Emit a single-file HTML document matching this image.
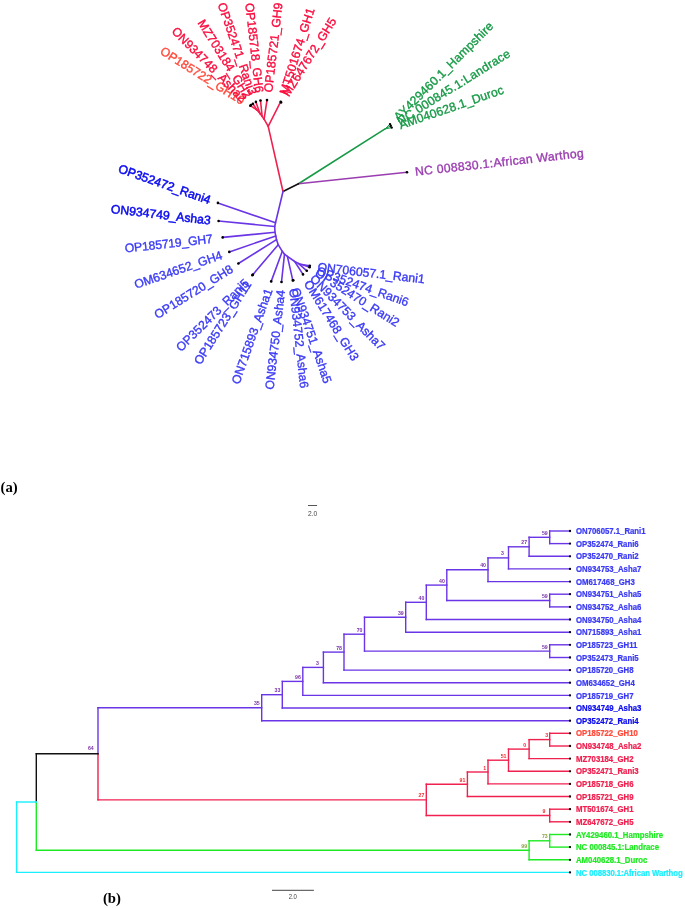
<!DOCTYPE html>
<html lang="en"><head><meta charset="utf-8"><title>Phylogenetic tree</title>
<style>
html,body{margin:0;padding:0;background:#fff;}
body{width:685px;height:908px;overflow:hidden;}
svg{display:block;}
text{font-family:"Liberation Sans",sans-serif;}
.t{font-size:12.2px;stroke-width:0.36px;paint-order:stroke;}
.b{font-size:8.8px;font-weight:bold;stroke-width:0.25px;}
.n{font-size:5.2px;font-weight:bold;}
.s{font-size:7px;fill:#444;}
.cap{font-family:"Liberation Serif",serif;font-weight:bold;font-size:14.7px;fill:#000;}
</style></head><body>
<svg width="685" height="908" viewBox="0 0 685 908">
<rect width="685" height="908" fill="#fff"/>
<g id="radial">
<line x1="298.5" y1="183.7" x2="385.1" y2="128.9" stroke="#169a46" stroke-width="1.6" stroke-linecap="round"/>
<line x1="385.1" y1="128.9" x2="390.0" y2="124.1" stroke="#169a46" stroke-width="1.0" stroke-linecap="round"/>
<line x1="385.1" y1="128.9" x2="390.8" y2="125.8" stroke="#169a46" stroke-width="1.0" stroke-linecap="round"/>
<line x1="385.1" y1="128.9" x2="391.7" y2="127.6" stroke="#169a46" stroke-width="1.0" stroke-linecap="round"/>
<line x1="298.5" y1="183.7" x2="407.0" y2="172.2" stroke="#9a3db0" stroke-width="1.6" stroke-linecap="round"/>
<line x1="283.0" y1="191.5" x2="298.5" y2="183.7" stroke="#111111" stroke-width="1.6" stroke-linecap="round"/>
<line x1="283.0" y1="191.5" x2="268.2" y2="126.4" stroke="#f0204f" stroke-width="1.6" stroke-linecap="round"/>
<line x1="268.2" y1="126.4" x2="280.7" y2="101.7" stroke="#f0204f" stroke-width="1.6" stroke-linecap="round"/>
<line x1="268.2" y1="126.4" x2="264.1" y2="119.2" stroke="#f0204f" stroke-width="1.6" stroke-linecap="round"/>
<line x1="264.1" y1="119.2" x2="267.0" y2="100.1" stroke="#f0204f" stroke-width="1.6" stroke-linecap="round"/>
<line x1="264.1" y1="119.2" x2="262.1" y2="116.2" stroke="#f0204f" stroke-width="1.6" stroke-linecap="round"/>
<line x1="262.1" y1="116.2" x2="260.5" y2="100.5" stroke="#f0204f" stroke-width="1.6" stroke-linecap="round"/>
<line x1="262.1" y1="116.2" x2="260.0" y2="113.6" stroke="#f0204f" stroke-width="1.6" stroke-linecap="round"/>
<line x1="260.0" y1="113.6" x2="255.9" y2="101.9" stroke="#f0204f" stroke-width="1.6" stroke-linecap="round"/>
<line x1="260.0" y1="113.6" x2="257.0" y2="110.0" stroke="#f0204f" stroke-width="1.6" stroke-linecap="round"/>
<line x1="257.0" y1="110.0" x2="252.9" y2="103.7" stroke="#f0204f" stroke-width="1.6" stroke-linecap="round"/>
<line x1="257.0" y1="110.0" x2="250.3" y2="105.7" stroke="#f0204f" stroke-width="1.6" stroke-linecap="round"/>
<polyline fill="none" stroke="#6a35e6" stroke-width="1.6" stroke-linejoin="round" stroke-linecap="round" points="283.0,191.5 275.5,222.8 274.7,226.5 275.0,232.3 275.8,236.0 276.5,239.6 278.2,244.7 282.3,251.3 284.5,254.2 287.4,256.4 294.7,261.5 298.4,263.4 302.8,264.7 309.8,265.7"/>
<line x1="275.5" y1="222.8" x2="217.9" y2="202.9" stroke="#6a35e6" stroke-width="1.6" stroke-linecap="round"/>
<line x1="274.7" y1="226.5" x2="218.6" y2="221.0" stroke="#6a35e6" stroke-width="1.6" stroke-linecap="round"/>
<line x1="275.0" y1="232.3" x2="222.7" y2="237.4" stroke="#6a35e6" stroke-width="1.6" stroke-linecap="round"/>
<line x1="275.8" y1="236.0" x2="229.3" y2="251.9" stroke="#6a35e6" stroke-width="1.6" stroke-linecap="round"/>
<line x1="276.5" y1="239.6" x2="238.4" y2="263.5" stroke="#6a35e6" stroke-width="1.6" stroke-linecap="round"/>
<line x1="278.2" y1="244.7" x2="252.4" y2="275.2" stroke="#6a35e6" stroke-width="1.6" stroke-linecap="round"/>
<line x1="282.3" y1="251.3" x2="271.2" y2="281.4" stroke="#6a35e6" stroke-width="1.6" stroke-linecap="round"/>
<line x1="284.5" y1="254.2" x2="281.5" y2="282.0" stroke="#6a35e6" stroke-width="1.6" stroke-linecap="round"/>
<line x1="287.4" y1="256.4" x2="292.8" y2="280.4" stroke="#6a35e6" stroke-width="1.6" stroke-linecap="round"/>
<line x1="294.7" y1="261.5" x2="303.0" y2="274.4" stroke="#6a35e6" stroke-width="1.6" stroke-linecap="round"/>
<line x1="298.4" y1="263.4" x2="306.8" y2="270.8" stroke="#6a35e6" stroke-width="1.6" stroke-linecap="round"/>
<line x1="302.8" y1="264.7" x2="309.6" y2="267.3" stroke="#6a35e6" stroke-width="1.6" stroke-linecap="round"/>
<circle cx="407.0" cy="172.2" r="1.3" fill="#000"/>
<circle cx="280.7" cy="101.7" r="1.3" fill="#000"/>
<circle cx="250.3" cy="105.7" r="1.3" fill="#000"/>
<circle cx="309.8" cy="265.7" r="1.3" fill="#000"/>
<circle cx="267.0" cy="100.1" r="1.3" fill="#000"/>
<circle cx="260.5" cy="100.5" r="1.3" fill="#000"/>
<circle cx="255.9" cy="101.9" r="1.3" fill="#000"/>
<circle cx="252.9" cy="103.7" r="1.3" fill="#000"/>
<circle cx="217.9" cy="202.9" r="1.3" fill="#000"/>
<circle cx="218.6" cy="221.0" r="1.3" fill="#000"/>
<circle cx="222.7" cy="237.4" r="1.3" fill="#000"/>
<circle cx="229.3" cy="251.9" r="1.3" fill="#000"/>
<circle cx="238.4" cy="263.5" r="1.3" fill="#000"/>
<circle cx="252.4" cy="275.2" r="1.3" fill="#000"/>
<circle cx="271.2" cy="281.4" r="1.3" fill="#000"/>
<circle cx="281.5" cy="282.0" r="1.3" fill="#000"/>
<circle cx="292.8" cy="280.4" r="1.3" fill="#000"/>
<circle cx="303.0" cy="274.4" r="1.3" fill="#000"/>
<circle cx="306.8" cy="270.8" r="1.3" fill="#000"/>
<circle cx="309.6" cy="267.3" r="1.3" fill="#000"/>
<circle cx="390.0" cy="124.1" r="1.2" fill="#000"/>
<circle cx="390.8" cy="125.8" r="1.2" fill="#000"/>
<circle cx="391.7" cy="127.6" r="1.2" fill="#000"/>
<circle cx="281.1" cy="102.4" r="1.3" fill="#000"/>
<circle cx="251.0" cy="105.0" r="1.3" fill="#000"/>
<circle cx="252.8" cy="274.6" r="1.3" fill="#000"/>
<circle cx="293.3" cy="280.2" r="1.3" fill="#000"/>
<text class="t" transform="translate(317.7,266.6) rotate(6.6)" dy="0.36em" text-anchor="start" fill="#3a3af5" stroke="#3a3af5">ON706057.1_Rani1</text>
<text class="t" transform="translate(317.1,270.0) rotate(19.5)" dy="0.36em" text-anchor="start" fill="#3a3af5" stroke="#3a3af5">OP352474_Rani6</text>
<text class="t" transform="translate(316.4,271.6) rotate(32.3)" dy="0.36em" text-anchor="start" fill="#3a3af5" stroke="#3a3af5">OP352470_Rani2</text>
<text class="t" transform="translate(312.4,276.5) rotate(45.2)" dy="0.36em" text-anchor="start" fill="#3a3af5" stroke="#3a3af5">ON934753_Asha7</text>
<text class="t" transform="translate(307.2,281.2) rotate(58.0)" dy="0.36em" text-anchor="start" fill="#3a3af5" stroke="#3a3af5">OM617468_GH3</text>
<text class="t" transform="translate(295.4,288.0) rotate(70.9)" dy="0.36em" text-anchor="start" fill="#3a3af5" stroke="#3a3af5">ON934751_Asha5</text>
<text class="t" transform="translate(293.7,288.4) rotate(83.7)" dy="0.36em" text-anchor="start" fill="#3a3af5" stroke="#3a3af5">ON934752_Asha6</text>
<text class="t" transform="translate(280.6,289.9) rotate(-83.4)" dy="0.36em" text-anchor="end" fill="#3a3af5" stroke="#3a3af5">ON934750_Asha4</text>
<text class="t" transform="translate(268.5,288.9) rotate(-70.5)" dy="0.36em" text-anchor="end" fill="#3a3af5" stroke="#3a3af5">ON715893_Asha1</text>
<text class="t" transform="translate(248.1,282.0) rotate(-57.7)" dy="0.36em" text-anchor="end" fill="#3a3af5" stroke="#3a3af5">OP185723_GH11</text>
<text class="t" transform="translate(246.7,280.8) rotate(-44.8)" dy="0.36em" text-anchor="end" fill="#3a3af5" stroke="#3a3af5">OP352473_Rani5</text>
<text class="t" transform="translate(231.6,267.7) rotate(-32.0)" dy="0.36em" text-anchor="end" fill="#3a3af5" stroke="#3a3af5">OP185720_GH8</text>
<text class="t" transform="translate(221.7,254.5) rotate(-19.1)" dy="0.36em" text-anchor="end" fill="#3a3af5" stroke="#3a3af5">OM634652_GH4</text>
<text class="t" transform="translate(212.6,238.5) rotate(-6.3)" dy="0.36em" text-anchor="end" fill="#3a3af5" stroke="#3a3af5" textLength="88.3">OP185719_GH7</text>
<text class="t" transform="translate(210.7,220.1) rotate(6.6)" dy="0.36em" text-anchor="end" fill="#0a0af0" stroke="#0a0af0" style="stroke-width:0.5px">ON934749_Asha3</text>
<text class="t" transform="translate(210.4,200.2) rotate(19.5)" dy="0.36em" text-anchor="end" fill="#0a0af0" stroke="#0a0af0" style="stroke-width:0.5px">OP352472_Rani4</text>
<text class="t" transform="translate(243.5,101.4) rotate(32.3)" dy="0.36em" text-anchor="end" fill="#ff4a3a" stroke="#ff4a3a">OP185722_GH10</text>
<text class="t" transform="translate(244.7,100.0) rotate(45.2)" dy="0.36em" text-anchor="end" fill="#fa0a3c" stroke="#fa0a3c">ON934748_Asha2</text>
<text class="t" transform="translate(248.7,96.9) rotate(58.0)" dy="0.36em" text-anchor="end" fill="#fa0a3c" stroke="#fa0a3c">MZ703184_GH2</text>
<text class="t" transform="translate(253.3,94.3) rotate(70.9)" dy="0.36em" text-anchor="end" fill="#fa0a3c" stroke="#fa0a3c">OP352471_Rani3</text>
<text class="t" transform="translate(259.6,92.5) rotate(83.7)" dy="0.36em" text-anchor="end" fill="#fa0a3c" stroke="#fa0a3c">OP185718_GH6</text>
<text class="t" transform="translate(267.9,92.2) rotate(-83.4)" dy="0.36em" text-anchor="start" fill="#fa0a3c" stroke="#fa0a3c">OP185721_GH9</text>
<text class="t" transform="translate(283.1,94.1) rotate(-72.3)" dy="0.36em" text-anchor="start" fill="#fa0a3c" stroke="#fa0a3c">MT501674_GH1</text>
<text class="t" transform="translate(285.0,94.9) rotate(-57.7)" dy="0.36em" text-anchor="start" fill="#fa0a3c" stroke="#fa0a3c">MZ647672_GH5</text>
<text class="t" transform="translate(395.7,118.5) rotate(-44.8)" dy="0.36em" text-anchor="start" fill="#169a46" stroke="#169a46" textLength="134.4">AY429460.1_Hampshire</text>
<text class="t" transform="translate(397.6,121.6) rotate(-32.0)" dy="0.36em" text-anchor="start" fill="#169a46" stroke="#169a46" textLength="131.2">NC 000845.1:Landrace</text>
<text class="t" transform="translate(399.3,125.0) rotate(-19.1)" dy="0.36em" text-anchor="start" fill="#169a46" stroke="#169a46" textLength="109.8">AM040628.1_Duroc</text>
<text class="t" transform="translate(415.0,171.3) rotate(-6.3)" dy="0.36em" text-anchor="start" fill="#9a3db0" stroke="#9a3db0" textLength="169.6">NC 008830.1:African Warthog</text>
</g>
<text class="cap" x="0.6" y="492.4">(a)</text>
<line x1="308" y1="505.5" x2="317.1" y2="505.5" stroke="#555" stroke-width="1"/>
<text class="s" x="312.5" y="516" text-anchor="middle" textLength="9.2" lengthAdjust="spacingAndGlyphs" style="font-size:7.6px">2.0</text>
<text class="cap" x="102.9" y="903.2">(b)</text>
<line x1="272" y1="890.3" x2="313.9" y2="890.3" stroke="#444" stroke-width="1"/>
<text class="s" x="292.8" y="899.4" text-anchor="middle" textLength="8.3" lengthAdjust="spacingAndGlyphs" style="font-size:7px">2.0</text>
<g id="rect">
<line x1="549.7" y1="531.0" x2="549.7" y2="543.6" stroke="#6a35e6" stroke-width="1.4" stroke-linecap="square"/>
<line x1="549.7" y1="531.0" x2="570.2" y2="531.0" stroke="#6a35e6" stroke-width="1.4" stroke-linecap="square"/>
<line x1="549.7" y1="543.6" x2="570.2" y2="543.6" stroke="#6a35e6" stroke-width="1.4" stroke-linecap="square"/>
<line x1="529.1" y1="537.3" x2="529.1" y2="556.3" stroke="#6a35e6" stroke-width="1.4" stroke-linecap="square"/>
<line x1="529.1" y1="537.3" x2="549.7" y2="537.3" stroke="#6a35e6" stroke-width="1.4" stroke-linecap="square"/>
<line x1="529.1" y1="556.3" x2="570.2" y2="556.3" stroke="#6a35e6" stroke-width="1.4" stroke-linecap="square"/>
<line x1="508.5" y1="546.8" x2="508.5" y2="568.9" stroke="#6a35e6" stroke-width="1.4" stroke-linecap="square"/>
<line x1="508.5" y1="546.8" x2="529.1" y2="546.8" stroke="#6a35e6" stroke-width="1.4" stroke-linecap="square"/>
<line x1="508.5" y1="568.9" x2="570.2" y2="568.9" stroke="#6a35e6" stroke-width="1.4" stroke-linecap="square"/>
<line x1="488.0" y1="557.9" x2="488.0" y2="581.6" stroke="#6a35e6" stroke-width="1.4" stroke-linecap="square"/>
<line x1="488.0" y1="557.9" x2="508.5" y2="557.9" stroke="#6a35e6" stroke-width="1.4" stroke-linecap="square"/>
<line x1="488.0" y1="581.6" x2="570.2" y2="581.6" stroke="#6a35e6" stroke-width="1.4" stroke-linecap="square"/>
<line x1="549.7" y1="594.2" x2="549.7" y2="606.9" stroke="#6a35e6" stroke-width="1.4" stroke-linecap="square"/>
<line x1="549.7" y1="594.2" x2="570.2" y2="594.2" stroke="#6a35e6" stroke-width="1.4" stroke-linecap="square"/>
<line x1="549.7" y1="606.9" x2="570.2" y2="606.9" stroke="#6a35e6" stroke-width="1.4" stroke-linecap="square"/>
<line x1="446.8" y1="569.7" x2="446.8" y2="600.5" stroke="#6a35e6" stroke-width="1.4" stroke-linecap="square"/>
<line x1="446.8" y1="569.7" x2="488.0" y2="569.7" stroke="#6a35e6" stroke-width="1.4" stroke-linecap="square"/>
<line x1="446.8" y1="600.5" x2="549.7" y2="600.5" stroke="#6a35e6" stroke-width="1.4" stroke-linecap="square"/>
<line x1="426.3" y1="585.1" x2="426.3" y2="619.5" stroke="#6a35e6" stroke-width="1.4" stroke-linecap="square"/>
<line x1="426.3" y1="585.1" x2="446.8" y2="585.1" stroke="#6a35e6" stroke-width="1.4" stroke-linecap="square"/>
<line x1="426.3" y1="619.5" x2="570.2" y2="619.5" stroke="#6a35e6" stroke-width="1.4" stroke-linecap="square"/>
<line x1="405.7" y1="602.3" x2="405.7" y2="632.2" stroke="#6a35e6" stroke-width="1.4" stroke-linecap="square"/>
<line x1="405.7" y1="602.3" x2="426.3" y2="602.3" stroke="#6a35e6" stroke-width="1.4" stroke-linecap="square"/>
<line x1="405.7" y1="632.2" x2="570.2" y2="632.2" stroke="#6a35e6" stroke-width="1.4" stroke-linecap="square"/>
<line x1="549.7" y1="644.8" x2="549.7" y2="657.5" stroke="#6a35e6" stroke-width="1.4" stroke-linecap="square"/>
<line x1="549.7" y1="644.8" x2="570.2" y2="644.8" stroke="#6a35e6" stroke-width="1.4" stroke-linecap="square"/>
<line x1="549.7" y1="657.5" x2="570.2" y2="657.5" stroke="#6a35e6" stroke-width="1.4" stroke-linecap="square"/>
<line x1="364.5" y1="617.2" x2="364.5" y2="651.1" stroke="#6a35e6" stroke-width="1.4" stroke-linecap="square"/>
<line x1="364.5" y1="617.2" x2="405.7" y2="617.2" stroke="#6a35e6" stroke-width="1.4" stroke-linecap="square"/>
<line x1="364.5" y1="651.1" x2="549.7" y2="651.1" stroke="#6a35e6" stroke-width="1.4" stroke-linecap="square"/>
<line x1="344.0" y1="634.2" x2="344.0" y2="670.1" stroke="#6a35e6" stroke-width="1.4" stroke-linecap="square"/>
<line x1="344.0" y1="634.2" x2="364.5" y2="634.2" stroke="#6a35e6" stroke-width="1.4" stroke-linecap="square"/>
<line x1="344.0" y1="670.1" x2="570.2" y2="670.1" stroke="#6a35e6" stroke-width="1.4" stroke-linecap="square"/>
<line x1="323.4" y1="652.1" x2="323.4" y2="682.7" stroke="#6a35e6" stroke-width="1.4" stroke-linecap="square"/>
<line x1="323.4" y1="652.1" x2="344.0" y2="652.1" stroke="#6a35e6" stroke-width="1.4" stroke-linecap="square"/>
<line x1="323.4" y1="682.7" x2="570.2" y2="682.7" stroke="#6a35e6" stroke-width="1.4" stroke-linecap="square"/>
<line x1="302.8" y1="667.4" x2="302.8" y2="695.4" stroke="#6a35e6" stroke-width="1.4" stroke-linecap="square"/>
<line x1="302.8" y1="667.4" x2="323.4" y2="667.4" stroke="#6a35e6" stroke-width="1.4" stroke-linecap="square"/>
<line x1="302.8" y1="695.4" x2="570.2" y2="695.4" stroke="#6a35e6" stroke-width="1.4" stroke-linecap="square"/>
<line x1="282.3" y1="681.4" x2="282.3" y2="708.0" stroke="#6a35e6" stroke-width="1.4" stroke-linecap="square"/>
<line x1="282.3" y1="681.4" x2="302.8" y2="681.4" stroke="#6a35e6" stroke-width="1.4" stroke-linecap="square"/>
<line x1="282.3" y1="708.0" x2="570.2" y2="708.0" stroke="#6a35e6" stroke-width="1.4" stroke-linecap="square"/>
<line x1="261.7" y1="694.7" x2="261.7" y2="720.7" stroke="#6a35e6" stroke-width="1.4" stroke-linecap="square"/>
<line x1="261.7" y1="694.7" x2="282.3" y2="694.7" stroke="#6a35e6" stroke-width="1.4" stroke-linecap="square"/>
<line x1="261.7" y1="720.7" x2="570.2" y2="720.7" stroke="#6a35e6" stroke-width="1.4" stroke-linecap="square"/>
<line x1="549.7" y1="733.3" x2="549.7" y2="746.0" stroke="#f0204f" stroke-width="1.4" stroke-linecap="square"/>
<line x1="549.7" y1="733.3" x2="570.2" y2="733.3" stroke="#f0204f" stroke-width="1.4" stroke-linecap="square"/>
<line x1="549.7" y1="746.0" x2="570.2" y2="746.0" stroke="#f0204f" stroke-width="1.4" stroke-linecap="square"/>
<line x1="529.1" y1="739.6" x2="529.1" y2="758.6" stroke="#f0204f" stroke-width="1.4" stroke-linecap="square"/>
<line x1="529.1" y1="739.6" x2="549.7" y2="739.6" stroke="#f0204f" stroke-width="1.4" stroke-linecap="square"/>
<line x1="529.1" y1="758.6" x2="570.2" y2="758.6" stroke="#f0204f" stroke-width="1.4" stroke-linecap="square"/>
<line x1="508.5" y1="749.1" x2="508.5" y2="771.3" stroke="#f0204f" stroke-width="1.4" stroke-linecap="square"/>
<line x1="508.5" y1="749.1" x2="529.1" y2="749.1" stroke="#f0204f" stroke-width="1.4" stroke-linecap="square"/>
<line x1="508.5" y1="771.3" x2="570.2" y2="771.3" stroke="#f0204f" stroke-width="1.4" stroke-linecap="square"/>
<line x1="488.0" y1="760.2" x2="488.0" y2="783.9" stroke="#f0204f" stroke-width="1.4" stroke-linecap="square"/>
<line x1="488.0" y1="760.2" x2="508.5" y2="760.2" stroke="#f0204f" stroke-width="1.4" stroke-linecap="square"/>
<line x1="488.0" y1="783.9" x2="570.2" y2="783.9" stroke="#f0204f" stroke-width="1.4" stroke-linecap="square"/>
<line x1="467.4" y1="772.0" x2="467.4" y2="796.5" stroke="#f0204f" stroke-width="1.4" stroke-linecap="square"/>
<line x1="467.4" y1="772.0" x2="488.0" y2="772.0" stroke="#f0204f" stroke-width="1.4" stroke-linecap="square"/>
<line x1="467.4" y1="796.5" x2="570.2" y2="796.5" stroke="#f0204f" stroke-width="1.4" stroke-linecap="square"/>
<line x1="549.7" y1="809.2" x2="549.7" y2="821.8" stroke="#f0204f" stroke-width="1.4" stroke-linecap="square"/>
<line x1="549.7" y1="809.2" x2="570.2" y2="809.2" stroke="#f0204f" stroke-width="1.4" stroke-linecap="square"/>
<line x1="549.7" y1="821.8" x2="570.2" y2="821.8" stroke="#f0204f" stroke-width="1.4" stroke-linecap="square"/>
<line x1="426.3" y1="784.3" x2="426.3" y2="815.5" stroke="#f0204f" stroke-width="1.4" stroke-linecap="square"/>
<line x1="426.3" y1="784.3" x2="467.4" y2="784.3" stroke="#f0204f" stroke-width="1.4" stroke-linecap="square"/>
<line x1="426.3" y1="815.5" x2="549.7" y2="815.5" stroke="#f0204f" stroke-width="1.4" stroke-linecap="square"/>
<line x1="549.7" y1="834.5" x2="549.7" y2="847.1" stroke="#1eea22" stroke-width="1.4" stroke-linecap="square"/>
<line x1="549.7" y1="834.5" x2="570.2" y2="834.5" stroke="#1eea22" stroke-width="1.4" stroke-linecap="square"/>
<line x1="549.7" y1="847.1" x2="570.2" y2="847.1" stroke="#1eea22" stroke-width="1.4" stroke-linecap="square"/>
<line x1="529.1" y1="840.8" x2="529.1" y2="859.8" stroke="#1eea22" stroke-width="1.4" stroke-linecap="square"/>
<line x1="529.1" y1="840.8" x2="549.7" y2="840.8" stroke="#1eea22" stroke-width="1.4" stroke-linecap="square"/>
<line x1="529.1" y1="859.8" x2="570.2" y2="859.8" stroke="#1eea22" stroke-width="1.4" stroke-linecap="square"/>
<line x1="98.0" y1="707.7" x2="98.0" y2="753.8" stroke="#6a35e6" stroke-width="1.4" stroke-linecap="square"/>
<line x1="98.0" y1="707.7" x2="261.7" y2="707.7" stroke="#6a35e6" stroke-width="1.4" stroke-linecap="square"/>
<line x1="98.0" y1="753.8" x2="98.0" y2="799.9" stroke="#f0204f" stroke-width="1.4" stroke-linecap="square"/>
<line x1="98.0" y1="799.9" x2="426.3" y2="799.9" stroke="#f0204f" stroke-width="1.4" stroke-linecap="square"/>
<line x1="36.3" y1="753.8" x2="36.3" y2="802.0" stroke="#111111" stroke-width="1.4" stroke-linecap="square"/>
<line x1="36.3" y1="753.8" x2="98.0" y2="753.8" stroke="#111111" stroke-width="1.4" stroke-linecap="square"/>
<line x1="36.3" y1="802.0" x2="36.3" y2="850.3" stroke="#1eea22" stroke-width="1.4" stroke-linecap="square"/>
<line x1="36.3" y1="850.3" x2="529.1" y2="850.3" stroke="#1eea22" stroke-width="1.4" stroke-linecap="square"/>
<line x1="16.6" y1="802.0" x2="16.6" y2="872.4" stroke="#18efff" stroke-width="1.4" stroke-linecap="square"/>
<line x1="16.6" y1="802.0" x2="36.3" y2="802.0" stroke="#18efff" stroke-width="1.4" stroke-linecap="square"/>
<line x1="16.6" y1="872.4" x2="570.2" y2="872.4" stroke="#18efff" stroke-width="1.4" stroke-linecap="square"/>
<circle cx="570.0" cy="531.0" r="1.15" fill="#000"/>
<circle cx="570.0" cy="543.6" r="1.15" fill="#000"/>
<circle cx="570.0" cy="556.3" r="1.15" fill="#000"/>
<circle cx="570.0" cy="568.9" r="1.15" fill="#000"/>
<circle cx="570.0" cy="581.6" r="1.15" fill="#000"/>
<circle cx="570.0" cy="594.2" r="1.15" fill="#000"/>
<circle cx="570.0" cy="606.9" r="1.15" fill="#000"/>
<circle cx="570.0" cy="619.5" r="1.15" fill="#000"/>
<circle cx="570.0" cy="632.2" r="1.15" fill="#000"/>
<circle cx="570.0" cy="644.8" r="1.15" fill="#000"/>
<circle cx="570.0" cy="657.5" r="1.15" fill="#000"/>
<circle cx="570.0" cy="670.1" r="1.15" fill="#000"/>
<circle cx="570.0" cy="682.7" r="1.15" fill="#000"/>
<circle cx="570.0" cy="695.4" r="1.15" fill="#000"/>
<circle cx="570.0" cy="708.0" r="1.15" fill="#000"/>
<circle cx="570.0" cy="720.7" r="1.15" fill="#000"/>
<circle cx="570.0" cy="733.3" r="1.15" fill="#000"/>
<circle cx="570.0" cy="746.0" r="1.15" fill="#000"/>
<circle cx="570.0" cy="758.6" r="1.15" fill="#000"/>
<circle cx="570.0" cy="771.3" r="1.15" fill="#000"/>
<circle cx="570.0" cy="783.9" r="1.15" fill="#000"/>
<circle cx="570.0" cy="796.5" r="1.15" fill="#000"/>
<circle cx="570.0" cy="809.2" r="1.15" fill="#000"/>
<circle cx="570.0" cy="821.8" r="1.15" fill="#000"/>
<circle cx="570.0" cy="834.5" r="1.15" fill="#000"/>
<circle cx="570.0" cy="847.1" r="1.15" fill="#000"/>
<circle cx="570.0" cy="859.8" r="1.15" fill="#000"/>
<circle cx="570.0" cy="872.4" r="1.15" fill="#000"/>
<text class="b" transform="translate(576.0,534.15) scale(0.885,1)" fill="#3a3af5" stroke="#3a3af5">ON706057.1_Rani1</text>
<text class="b" transform="translate(576.0,546.79) scale(0.885,1)" fill="#3a3af5" stroke="#3a3af5">OP352474_Rani6</text>
<text class="b" transform="translate(576.0,559.44) scale(0.885,1)" fill="#3a3af5" stroke="#3a3af5">OP352470_Rani2</text>
<text class="b" transform="translate(576.0,572.08) scale(0.885,1)" fill="#3a3af5" stroke="#3a3af5">ON934753_Asha7</text>
<text class="b" transform="translate(576.0,584.73) scale(0.885,1)" fill="#3a3af5" stroke="#3a3af5">OM617468_GH3</text>
<text class="b" transform="translate(576.0,597.38) scale(0.885,1)" fill="#3a3af5" stroke="#3a3af5">ON934751_Asha5</text>
<text class="b" transform="translate(576.0,610.02) scale(0.885,1)" fill="#3a3af5" stroke="#3a3af5">ON934752_Asha6</text>
<text class="b" transform="translate(576.0,622.66) scale(0.885,1)" fill="#3a3af5" stroke="#3a3af5">ON934750_Asha4</text>
<text class="b" transform="translate(576.0,635.31) scale(0.885,1)" fill="#3a3af5" stroke="#3a3af5">ON715893_Asha1</text>
<text class="b" transform="translate(576.0,647.95) scale(0.885,1)" fill="#3a3af5" stroke="#3a3af5">OP185723_GH11</text>
<text class="b" transform="translate(576.0,660.60) scale(0.885,1)" fill="#3a3af5" stroke="#3a3af5">OP352473_Rani5</text>
<text class="b" transform="translate(576.0,673.25) scale(0.885,1)" fill="#3a3af5" stroke="#3a3af5">OP185720_GH8</text>
<text class="b" transform="translate(576.0,685.89) scale(0.885,1)" fill="#3a3af5" stroke="#3a3af5">OM634652_GH4</text>
<text class="b" transform="translate(576.0,698.53) scale(0.885,1)" fill="#3a3af5" stroke="#3a3af5">OP185719_GH7</text>
<text class="b" transform="translate(576.0,711.18) scale(0.885,1)" fill="#0a0af0" stroke="#0a0af0">ON934749_Asha3</text>
<text class="b" transform="translate(576.0,723.82) scale(0.885,1)" fill="#0a0af0" stroke="#0a0af0">OP352472_Rani4</text>
<text class="b" transform="translate(576.0,736.47) scale(0.885,1)" fill="#ff4a3a" stroke="#ff4a3a">OP185722_GH10</text>
<text class="b" transform="translate(576.0,749.12) scale(0.885,1)" fill="#f0204f" stroke="#f0204f">ON934748_Asha2</text>
<text class="b" transform="translate(576.0,761.76) scale(0.885,1)" fill="#f0204f" stroke="#f0204f">MZ703184_GH2</text>
<text class="b" transform="translate(576.0,774.40) scale(0.885,1)" fill="#f0204f" stroke="#f0204f">OP352471_Rani3</text>
<text class="b" transform="translate(576.0,787.05) scale(0.885,1)" fill="#f0204f" stroke="#f0204f">OP185718_GH6</text>
<text class="b" transform="translate(576.0,799.70) scale(0.885,1)" fill="#f0204f" stroke="#f0204f">OP185721_GH9</text>
<text class="b" transform="translate(576.0,812.34) scale(0.885,1)" fill="#f0204f" stroke="#f0204f">MT501674_GH1</text>
<text class="b" transform="translate(576.0,824.99) scale(0.885,1)" fill="#f0204f" stroke="#f0204f">MZ647672_GH5</text>
<text class="b" transform="translate(576.0,837.63) scale(0.885,1)" fill="#1eea22" stroke="#1eea22">AY429460.1_Hampshire</text>
<text class="b" transform="translate(576.0,850.27) scale(0.885,1)" fill="#1eea22" stroke="#1eea22">NC 000845.1:Landrace</text>
<text class="b" transform="translate(576.0,862.92) scale(0.885,1)" fill="#1eea22" stroke="#1eea22">AM040628.1_Duroc</text>
<text class="b" transform="translate(576.0,875.56) scale(0.885,1)" fill="#18efff" stroke="#18efff" textLength="120.6">NC 008830.1:African Warthog</text>
<text class="n" x="544.8" y="534.8" text-anchor="middle" fill="#7a2fa8">59</text>
<text class="n" x="524.2" y="544.3" text-anchor="middle" fill="#7a2fa8">27</text>
<text class="n" x="502.5" y="555.4" text-anchor="middle" fill="#7a2fa8">3</text>
<text class="n" x="483.1" y="567.2" text-anchor="middle" fill="#7a2fa8">40</text>
<text class="n" x="544.8" y="598.0" text-anchor="middle" fill="#7a2fa8">59</text>
<text class="n" x="441.9" y="582.6" text-anchor="middle" fill="#7a2fa8">40</text>
<text class="n" x="421.4" y="599.8" text-anchor="middle" fill="#7a2fa8">40</text>
<text class="n" x="400.8" y="614.7" text-anchor="middle" fill="#7a2fa8">39</text>
<text class="n" x="544.8" y="648.6" text-anchor="middle" fill="#7a2fa8">59</text>
<text class="n" x="359.6" y="631.7" text-anchor="middle" fill="#7a2fa8">70</text>
<text class="n" x="339.1" y="649.6" text-anchor="middle" fill="#7a2fa8">78</text>
<text class="n" x="317.4" y="664.9" text-anchor="middle" fill="#7a2fa8">3</text>
<text class="n" x="297.9" y="678.9" text-anchor="middle" fill="#7a2fa8">96</text>
<text class="n" x="277.4" y="692.2" text-anchor="middle" fill="#7a2fa8">33</text>
<text class="n" x="256.8" y="705.2" text-anchor="middle" fill="#7a2fa8">35</text>
<text class="n" x="546.8" y="737.1" text-anchor="middle" fill="#f02a30">3</text>
<text class="n" x="524.7" y="746.6" text-anchor="middle" fill="#f02a30">0</text>
<text class="n" x="503.6" y="757.7" text-anchor="middle" fill="#f02a30">51</text>
<text class="n" x="484.8" y="769.5" text-anchor="middle" fill="#f02a30">1</text>
<text class="n" x="462.5" y="781.8" text-anchor="middle" fill="#f02a30">91</text>
<text class="n" x="543.9" y="813.0" text-anchor="middle" fill="#f02a30">9</text>
<text class="n" x="421.4" y="797.4" text-anchor="middle" fill="#f02a30">27</text>
<text class="n" x="544.8" y="838.3" text-anchor="middle" fill="#8aa03a">73</text>
<text class="n" x="524.2" y="847.8" text-anchor="middle" fill="#8aa03a">99</text>
<text class="n" x="90.8" y="750.2" text-anchor="middle" fill="#7a2fa8">64</text>
</g>
</svg></body></html>
